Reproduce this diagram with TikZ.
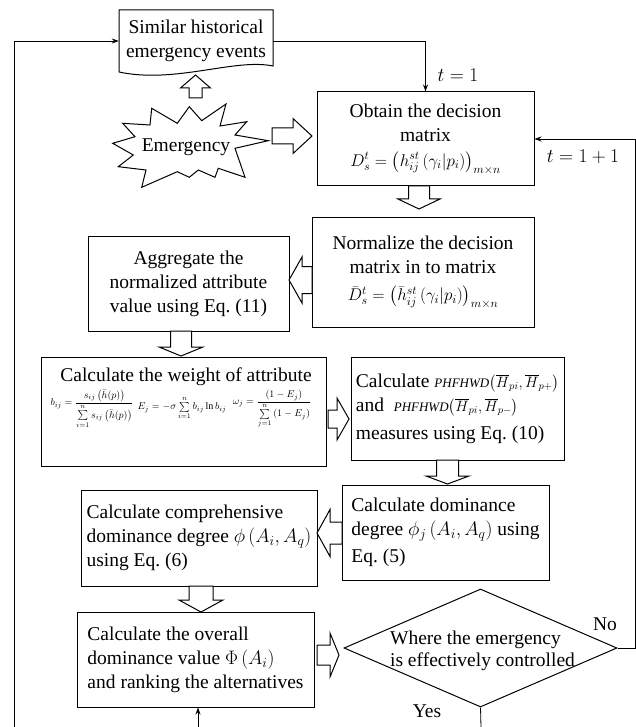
\RequirePackage{fix-cm}
\documentclass[tikz,border=0pt]{standalone}
\usepackage{amsmath}
\usepackage{fontspec}
\setmainfont{Liberation Serif}
\usetikzlibrary{arrows.meta,shapes.geometric}

\newcommand\hdown[6]{%
  \draw[hollow] ({#1-#5},#2) -- ({#1+#5},#2) -- ({#1+#5},{#3-#6}) -- ({#1+#4},{#3-#6}) -- (#1,#3) -- ({#1-#4},{#3-#6}) -- ({#1-#5},{#3-#6}) -- cycle;}
\newcommand\hright[6]{%
  \draw[hollow] (#2,{#1-#5}) -- (#2,{#1+#5}) -- ({#3-#6},{#1+#5}) -- ({#3-#6},{#1+#4}) -- (#3,#1) -- ({#3-#6},{#1-#4}) -- ({#3-#6},{#1-#5}) -- cycle;}

\tikzset{
  box/.style={draw, line width=1pt, inner sep=0pt, align=center},
  conn/.style={line width=0.8pt, -{Stealth[length=7pt,width=5pt]}},
  plain/.style={line width=0.8pt},
  hollow/.style={draw, line width=1pt, fill=white, line join=miter},
  small/.style={font=\fontsize{10}{12}\selectfont, inner sep=0pt},
}

\begin{document}
\begin{tikzpicture}[x=1pt,y=-1pt,font=\fontsize{19.5}{24}\selectfont]
\useasboundingbox (0,0) rectangle (636,727);

% document shape
\draw[line width=1pt] (119,10) -- (273,10) -- (273,66) .. controls (235,58) and (175,84) .. (119,72) -- cycle;
\node[minimum width=154, minimum height=62, inner sep=0pt, align=center] (doc) at (196,41) {Similar historical\\emergency events};

% star
\draw[line width=1pt, line join=miter] (112.7,143.3) -- (135,136.7) -- (122.7,123.3) -- (150,125) -- (151.7,108.3) -- (177.3,123.3) -- (189.3,106.7) -- (201.7,120.7) -- (226,104) -- (220,126) -- (246.7,121.7) -- (235,135) -- (268.3,140.7) -- (235,148.3) -- (245,177.3) -- (218.3,168.3) -- (215,177.3) -- (198.3,170) -- (189.3,177.3) -- (177.3,171.7) -- (141.7,187.3) -- (146,170) -- (118.3,166.7) -- (133.3,155) -- cycle;
\node[inner sep=1pt] (emer) at (186,147) {Emergency};

% boxes
\node[box, minimum width=217, minimum height=94] (obtain) at (425.5,139)
  {Obtain the decision\\matrix\\[1pt]{\fontsize{17}{17}\selectfont$D_s^t=\left(h_{ij}^{st}\left(\gamma_i\middle|p_i\right)\right)_{m\times n}$}};
\node[box, minimum width=222, minimum height=109] (norm) at (423,272.5)
  {Normalize the decision\\matrix in to matrix\\[3pt]{\fontsize{17}{17}\selectfont$\bar{D}_s^t=\left(\bar{h}_{ij}^{st}\left(\gamma_i\middle|p_i\right)\right)_{m\times n}$}};
\node[box, minimum width=201, minimum height=95] (agg) at (188.5,283.5)
  {Aggregate the\\normalized attribute\\value using Eq.~(11)};
\node[box, minimum width=285, minimum height=109] (wt) at (183.5,411.5) {};
\node[inner sep=0pt] (wtT) at (186,377) {Calculate the weight of attribute};
\node[small] (wtB) at (92,409)
  {$b_{ij}=\dfrac{s_{ij}\left(\bar h(p)\right)}{\sum\limits_{i=1}^{n}s_{ij}\left(\bar h(p)\right)}$};
\node[small] (wtE) at (182,408)
  {$E_j=-\sigma\sum\limits_{i=1}^{n}b_{ij}\ln b_{ij}$};
\node[small] (wtW) at (272,409)
  {$\omega_j=\dfrac{\left(1-E_j\right)}{\sum\limits_{j=1}^{n}\left(1-E_j\right)}$};
\node[box, minimum width=213, minimum height=103, align=left] (dist) at (457.5,408.5)
  {Calculate {\itshape\fontsize{13}{13}\selectfont PHFHWD}{\fontsize{15}{15}\selectfont$\left(\overline{H}_{pi},\overline{H}_{p+}\right)$}\\
   and\ \ {\itshape\fontsize{13}{13}\selectfont PHFHWD}{\fontsize{15}{15}\selectfont$\left(\overline{H}_{pi},\overline{H}_{p-}\right)$}\\[4pt]
   measures using Eq.~(10)};
\node[box, minimum width=207, minimum height=95, align=left] (dom) at (445.5,532.5)
  {Calculate dominance\\degree $\phi_j\left(A_i,A_q\right)$ using\\[3pt]Eq.~(5)};
\node[box, minimum width=236, minimum height=96, align=left] (comp) at (199,538)
  {Calculate comprehensive\\dominance degree $\phi\left(A_i,A_q\right)$\\using Eq.~(6)};
\node[box, minimum width=237, minimum height=95, align=left] (over) at (195.5,659.5)
  {Calculate the overall\\dominance value $\Phi\left(A_i\right)$\\and ranking the alternatives};
\node[draw, diamond, line width=1pt, minimum width=273, minimum height=118, inner sep=0pt] (dec) at (480.5,648) {};
\node[align=left, inner sep=0pt, font=\fontsize{19.5}{22}\selectfont] (decT) at (482.5,651)
  {Where the emergency\\is effectively controlled};

% labels
\node (t1) at (458,75) {$t=1$};
\node (t2) at (583,157) {$t=1+1$};
\node (no) at (605,624) {No};
\node (yes) at (427,711) {Yes};

% hollow arrows
\hdown{195.5}{98}{75}{15}{6.5}{-13}
\hright{136}{272}{312}{17.5}{8}{19}
\hdown{419}{186}{209}{21}{10.5}{10}
\hright{280}{312}{289}{23}{13.5}{-13}
\hdown{181}{331}{356}{22}{10.5}{9}
\hright{419}{328}{349}{21}{9}{12}
\hdown{447.5}{460}{484}{21.5}{11}{8}
\hright{533}{342}{317}{23.5}{11}{-13}
\hdown{201}{586}{612}{22}{12}{12}
\hright{655}{317}{339}{22}{10}{9}

% connectors
\coordinate (bl) at (14,727);
\draw[conn] (bl) |- (doc.west);
\draw[conn] (doc.east) -| (obtain.north);
\coordinate (rc) at (635,648);
\draw[conn] (dec.east) -- (rc) |- (obtain.east);
\coordinate (yb) at (481,727);
\draw[plain] (dec.south) -- (yb);
\coordinate (ub) at (198,727);
\draw[conn] (ub) -- (ub |- over.south);
\end{tikzpicture}
\end{document}
